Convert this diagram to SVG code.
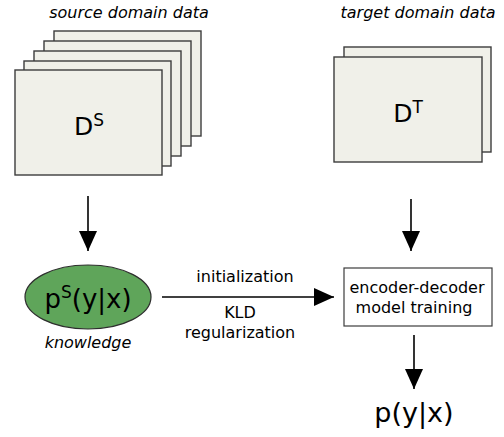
<svg xmlns="http://www.w3.org/2000/svg" width="504" height="437" viewBox="0 0 504 437">
<defs>
<style>
text{font-family:"DejaVu Sans",Verdana,sans-serif;fill:#000}
.it{font-style:italic;font-size:16px}
.lbl{font-size:16px}
.sheet{fill:#f0f0e9;stroke:#3c3c3c;stroke-width:1.4}
.conn{stroke:#000;stroke-width:1.6;fill:none}
</style>
<marker id="ah" viewBox="0 0 20 18" refX="20" refY="9" markerWidth="20" markerHeight="18" markerUnits="userSpaceOnUse" orient="auto">
<path d="M0,0 L20,9 L0,18 Z" fill="#000"/>
</marker>
</defs>
<rect width="504" height="437" fill="#fff"/>
<g id="source-data">
<text class="it" x="129" y="18" text-anchor="middle">source domain data</text>
<rect class="sheet" x="54" y="31" width="147" height="105"/>
<rect class="sheet" x="44" y="41" width="147" height="105"/>
<rect class="sheet" x="34" y="51" width="147" height="105"/>
<rect class="sheet" x="24" y="61" width="147" height="105"/>
<rect class="sheet" x="15" y="70" width="147" height="105"/>
<text x="89" y="135" text-anchor="middle" font-size="25">D<tspan font-size="17" dy="-9">S</tspan></text>
</g>
<g id="target-data">
<text class="it" x="418" y="18" text-anchor="middle">target domain data</text>
<rect class="sheet" x="344" y="47" width="147" height="105"/>
<rect class="sheet" x="334" y="57" width="148" height="105"/>
<text x="408" y="122" text-anchor="middle" font-size="25">D<tspan font-size="17" dy="-9">T</tspan></text>
</g>
<g id="knowledge">
<ellipse cx="88" cy="297" rx="63" ry="32" fill="#5fa55a" stroke="#2e2e2e" stroke-width="1.2"/>
<text x="88" y="308" text-anchor="middle" font-size="26">p<tspan font-size="17" dy="-10">S</tspan><tspan dy="10">(y|x)</tspan></text>
<text class="it" x="88" y="348" text-anchor="middle">knowledge</text>
</g>
<g id="training">
<rect x="344" y="268" width="148" height="58" fill="#fff" stroke="#3c3c3c" stroke-width="1.2"/>
<text class="lbl" x="417" y="293" text-anchor="middle">encoder-decoder</text>
<text class="lbl" x="414" y="313" text-anchor="middle">model training</text>
</g>
<g id="output">
<text x="414" y="422" text-anchor="middle" font-size="27">p(y|x)</text>
</g>
<g id="connectors">
<line class="conn" x1="88" y1="196" x2="88" y2="251" marker-end="url(#ah)"/>
<line class="conn" x1="411" y1="199" x2="411" y2="251" marker-end="url(#ah)"/>
<line class="conn" x1="162" y1="297" x2="334" y2="297" marker-end="url(#ah)"/>
<line class="conn" x1="414" y1="335" x2="414" y2="389" marker-end="url(#ah)"/>
<text class="lbl" x="245" y="282" text-anchor="middle">initialization</text>
<text class="lbl" x="240" y="318" text-anchor="middle">KLD</text>
<text class="lbl" x="240" y="338" text-anchor="middle">regularization</text>
</g>
</svg>
